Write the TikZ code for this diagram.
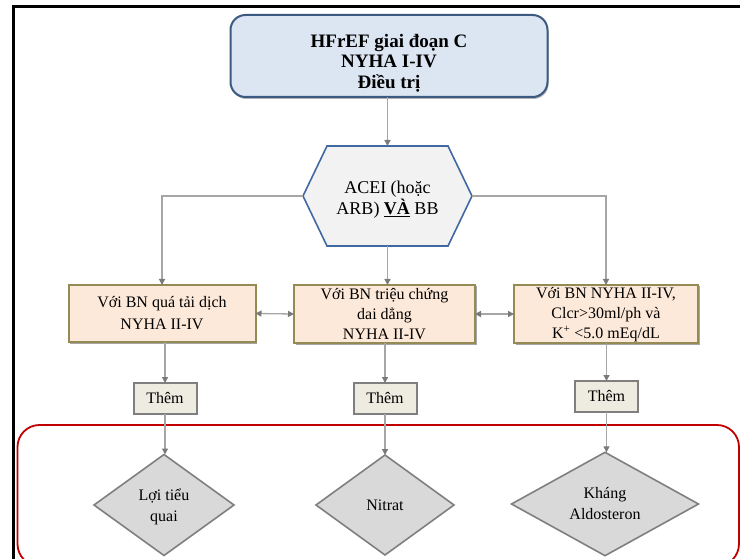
\documentclass[tikz,border=0pt]{standalone}
\usepackage{fontspec}
\setmainfont{Liberation Serif}
\usetikzlibrary{arrows.meta,shapes.geometric,shadows,backgrounds}

\definecolor{topfill}{HTML}{DCE6F2}
\definecolor{topdraw}{HTML}{3B5A82}
\definecolor{hexfill}{HTML}{F2F2F2}
\definecolor{hexdraw}{HTML}{3F69A0}
\definecolor{peach}{HTML}{FDE9D9}
\definecolor{olive}{HTML}{948A54}
\definecolor{addfill}{HTML}{EEECE1}
\definecolor{boxgray}{HTML}{7F7F7F}
\definecolor{drugfill}{HTML}{D9D9D9}
\definecolor{linegray}{HTML}{A6A6A6}
\definecolor{tipgray}{HTML}{7A7A7A}
\definecolor{zonered}{HTML}{C00000}

\tikzset{
  every node/.style={outer sep=0pt, inner sep=2pt, align=center, text=black},
  topbox/.style={draw=topdraw, fill=topfill, line width=2pt, rounded corners=15pt,
    font=\fontsize{19}{20.5}\selectfont\bfseries,
    drop shadow={shadow xshift=1pt, shadow yshift=-2pt, fill=black, opacity=0.3}},
  groupbox/.style={draw=olive, fill=peach, line width=2pt,
    font=\fontsize{16}{20}\selectfont,
    drop shadow={shadow xshift=1.5pt, shadow yshift=-1.5pt, fill=black, opacity=0.35}},
  addbox/.style={draw=boxgray, fill=addfill, line width=2pt,
    minimum width=63pt, minimum height=31pt, font=\fontsize{16}{18}\selectfont},
  drug/.style={diamond, draw=boxgray, fill=drugfill, line width=1.6pt, inner sep=0pt,
    font=\fontsize{16}{21}\selectfont},
  conn/.style={draw=linegray, line width=1.3pt,
    -{Triangle[length=6pt, width=6pt, color=tipgray]}},
  both/.style={draw=linegray, line width=1.3pt,
    {Triangle[length=6pt, width=6pt, color=tipgray]}-{Triangle[length=6pt, width=6pt, color=tipgray]}},
}

\begin{document}
\begin{tikzpicture}[x=1pt, y=-1pt]
\useasboundingbox (0,0) rectangle (740,559);

% page frame
\draw[line width=3pt] (13.5,560) -- (13.5,6.5) -- (741,6.5);

% region of added drugs
\draw[zonered, line width=1.8pt, rounded corners=22pt] (17.5,425) rectangle (739,566);

% title (the strut lowers the text block a little inside the box)
\node[topbox, minimum width=317pt, minimum height=82pt] (top) at (389,56)
  {\rule{0pt}{27pt}HFrEF giai đoạn C\\NYHA I-IV\\Điều trị};

% base therapy (hexagon drawn behind the text node)
\node[minimum width=169pt, minimum height=100pt, inner sep=0pt,
      font=\fontsize{18}{21}\selectfont] (hex) at (387.5,196)
  {\rule{0pt}{20pt}ACEI (hoặc\\ARB) \underline{\textbf{VÀ}} BB};
\begin{pgfonlayer}{background}
  \filldraw[fill=hexfill, draw=hexdraw, line width=1.6pt, line join=miter]
    (hex.west) -- ([xshift=24pt]hex.north west) -- ([xshift=-24pt]hex.north east)
    -- (hex.east) -- ([xshift=-24pt]hex.south east) -- ([xshift=24pt]hex.south west)
    -- cycle;
\end{pgfonlayer}

% patient groups
\node[groupbox, minimum width=187pt, minimum height=57pt,
      font=\fontsize{16}{22}\selectfont] (g1) at (162,313.5)
  {Với BN quá tải dịch\\NYHA II-IV};
\node[groupbox, minimum width=181pt, minimum height=58pt, inner ysep=0pt] (g2) at (384.5,314)
  {Với BN triệu chứng\\dai dẳng\\NYHA II-IV};
\node[groupbox, minimum width=184pt, minimum height=58pt, inner ysep=0pt] (g3) at (606,314)
  {\rule{0pt}{13pt}Với BN NYHA II-IV,\\Clcr>30ml/ph và\\K\textsuperscript{+} <5.0 mEq/dL};

% "add" steps
\node[addbox] (a1) at (165,398.5) {Thêm};
\node[addbox] (a2) at (385,398.5) {Thêm};
\node[addbox] (a3) at (606.5,396.5) {Thêm};

% added drugs
\node[drug, minimum width=140pt, minimum height=101pt] (d1) at (164,505) {\rule{0pt}{16pt}Lợi tiểu\\quai};
\node[drug, minimum width=138pt, minimum height=100pt] (d2) at (385,505) {Nitrat};
\node[drug, minimum width=187pt, minimum height=103pt] (d3) at (605,504) {Kháng\\Aldosteron};

% connectors
\draw[conn] (top.south -| hex.north) -- (hex.north);
\draw[conn] (hex.west) -| (g1.north);
\draw[conn] (hex.east) -| (g3.north);
\draw[conn] (hex.south) -- (hex.south |- g2.north);
\draw[both] (g1.east) -- (g2.west);
\draw[both] (g2.east) -- (g3.west);
\draw[conn] (g1.south -| a1.north) -- (a1.north);
\draw[conn] (g2.south -| a2.north) -- (a2.north);
\draw[conn] (g3.south -| a3.north) -- (a3.north);
\draw[conn] (a1.south) -- (a1.south |- d1.north);
\draw[conn] (a2.south) -- (d2.north);
\draw[conn] (a3.south) -- (a3.south |- d3.north);
\end{tikzpicture}
\end{document}
